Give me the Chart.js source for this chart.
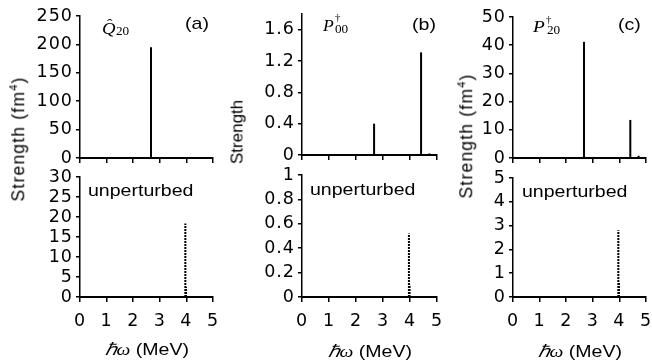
<!DOCTYPE html>
<html><head><meta charset="utf-8">
<script src="https://cdn.jsdelivr.net/npm/chart.js@4.4.1/dist/chart.umd.min.js"></script>
<style>
html,body{margin:0;padding:0;background:#fff;}
#root{position:relative;width:652px;height:364px;overflow:hidden;background:#fff;}
.cv{position:absolute;}
.t{position:absolute;white-space:nowrap;color:#000;}
</style></head><body><div id="root"></div>
<script>
// ---- data ----
const xTicks = [0, 1, 2, 3, 4, 5];
// perturbed (QRPA) strengths
const q20Energy = [2.67];
const q20Strength = [195];
const p00Energy = [2.67, 4.41, 4.72];
const p00Strength = [0.40, 1.31, 0.02];
const p20Energy = [2.67, 4.41, 4.72];
const p20Strength = [41.2, 13.5, 0.8];
// unperturbed strengths
const unpEnergy = [3.96, 3.985];
const unpQ20Strength = [18.4, 2.5];
const unpP00Strength = [0.52, 0.10];
const unpP20Strength = [2.8, 0.6];
// y tick labels
const yTicksQ20 = [0, 50, 100, 150, 200, 250];
const yTicksP00 = [0, 0.4, 0.8, 1.2, 1.6];
const yTicksP20 = [0, 10, 20, 30, 40, 50];
const yTicksUnpQ20 = [0, 5, 10, 15, 20, 25, 30];
const yTicksUnpP00 = [0, 0.2, 0.4, 0.6, 0.8, 1];
const yTicksUnpP20 = [0, 1, 2, 3, 4, 5];

const root = document.getElementById('root');
const YW = 70, PT = 12, PR = 14;
const TICKFONT = {family: 'DejaVu Sans', size: 17.5};

const spacing = {
  id: 'spacing',
  beforeDraw(chart) { chart.ctx.letterSpacing = '1px'; }
};

function makeChart(p) {
  const xh = p.labels ? 48 : 8;
  const W = YW + (p.x1 - p.x0) + PR;
  const H = PT + (p.y1 - p.y0) + xh;
  const c = document.createElement('canvas');
  c.className = 'cv';
  c.width = W; c.height = H;
  c.style.left = (p.x0 - YW) + 'px';
  c.style.top = (p.y0 - PT) + 'px';
  c.style.width = W + 'px'; c.style.height = H + 'px';
  root.appendChild(c);
  const datasets = p.E.map((e, i) => ({
    data: [{x: e, y: 0}, {x: e, y: p.S[i]}],
    showLine: true, borderColor: '#000', borderWidth: 2,
    pointRadius: 0, borderDash: p.dash ? [2, 1] : [], borderCapStyle: 'butt', fill: false
  }));
  new Chart(c, {
    type: 'scatter',
    data: {datasets},
    plugins: [spacing],
    options: {
      responsive: false, animation: false, devicePixelRatio: 1,
      layout: {padding: {left: 0, right: PR, top: PT, bottom: 0}},
      plugins: {legend: {display: false}, tooltip: {enabled: false}},
      scales: {
        x: {
          type: 'linear', min: 0, max: 5,
          afterBuildTicks: s => { s.ticks = xTicks.map(v => ({value: v})); },
          afterFit: s => { s.height = xh; s.paddingLeft = 0; s.paddingRight = 0; },
          grid: {drawOnChartArea: false, drawTicks: true, tickLength: 5, color: '#000', lineWidth: 1.5},
          border: {display: true, color: '#000', width: 2},
          ticks: {display: p.labels, padding: p.xpad || 9, maxRotation: 0, autoSkip: false, color: '#000', font: TICKFONT}
        },
        y: {
          type: 'linear', min: 0, max: p.max,
          afterBuildTicks: s => { s.ticks = p.ticks.map(v => ({value: v})); },
          afterFit: s => { s.width = YW; s.paddingTop = 0; s.paddingBottom = 0; },
          grid: {drawOnChartArea: false, drawTicks: true, tickLength: 4, color: '#000', lineWidth: 1.5},
          border: {display: true, color: '#000', width: 1.5},
          ticks: {padding: 3, autoSkip: false, color: '#000', font: TICKFONT, callback: v => String(+v.toFixed(2))}
        }
      }
    }
  });
}

const panels = [
  {x0: 80, x1: 213, y0: 16, y1: 158, max: 250, ticks: yTicksQ20, E: q20Energy, S: q20Strength, dash: false, labels: false},
  {x0: 302, x1: 437, y0: 14, y1: 155, max: 1.8, ticks: yTicksP00, E: p00Energy, S: p00Strength, dash: false, labels: false},
  {x0: 513, x1: 646, y0: 17, y1: 158, max: 50, ticks: yTicksP20, E: p20Energy, S: p20Strength, dash: false, labels: false},
  {x0: 80, x1: 213, y0: 177, y1: 297, max: 30, ticks: yTicksUnpQ20, E: unpEnergy, S: unpQ20Strength, dash: true, labels: true, xpad: 9},
  {x0: 302, x1: 437, y0: 175, y1: 297, max: 1, ticks: yTicksUnpP00, E: unpEnergy, S: unpP00Strength, dash: true, labels: true, xpad: 9},
  {x0: 513, x1: 646, y0: 178, y1: 297, max: 5, ticks: yTicksUnpP20, E: unpEnergy, S: unpP20Strength, dash: true, labels: true, xpad: 9}
];
panels.forEach(makeChart);

// ---- text overlays ----
const SANS = '"Liberation Sans", Arial, sans-serif';
const SERIF = '"Liberation Serif", "Times New Roman", serif';
function txt(html, x, baseline, size, opt) {
  opt = opt || {};
  const d = document.createElement('div');
  d.className = 't';
  d.innerHTML = html;
  d.style.fontFamily = opt.family || SANS;
  d.style.fontSize = size + 'px';
  d.style.lineHeight = size + 'px';
  if (opt.italic) d.style.fontStyle = 'italic';
  d.style.top = (baseline - 0.845 * size) + 'px';
  d.style.left = x + 'px';
  const sx = opt.sx || 1.15;
  if (opt.center) {
    d.style.transformOrigin = '50% 50%';
    d.style.transform = 'translateX(-50%) scaleX(' + sx + ')';
  } else {
    d.style.transformOrigin = '0 50%';
    d.style.transform = 'scaleX(' + sx + ')';
  }
  root.appendChild(d);
  return d;
}
function ytitle(html, cx, cy, size, ls) {
  const d = document.createElement('div');
  d.className = 't';
  d.innerHTML = html;
  d.style.fontFamily = SANS;
  d.style.fontSize = size + 'px';
  d.style.lineHeight = size + 'px';
  d.style.letterSpacing = (ls || 0) + 'px';
  d.style.left = cx + 'px';
  d.style.top = cy + 'px';
  d.style.transform = 'translate(-50%,-50%) rotate(-90deg)';
  root.appendChild(d);
}

// panel letters
txt('(a)', 185, 29, 17);
txt('(b)', 412, 30, 17);
txt('(c)', 618, 30, 17);
// operator labels
txt('Q', 102, 34, 17, {family: SERIF, italic: true, sx: 1.1});
txt('\u02C6', 107, 30, 15, {family: SERIF, sx: 1.1});
txt('20', 115.5, 36, 11.5, {family: SERIF, sx: 1.15});
txt('P', 323, 31.5, 16, {family: SERIF, italic: true, sx: 1.1});
txt('\u2020', 335, 21.5, 10, {family: SERIF, sx: 1.1});
txt('00', 335, 33.5, 11.5, {family: SERIF, sx: 1.15});
txt('P', 532.5, 33, 17.5, {family: SERIF, italic: true, sx: 1.1});
txt('\u2020', 546, 23, 10, {family: SERIF, sx: 1.1});
txt('20', 547, 35, 11.5, {family: SERIF, sx: 1.15});
// unperturbed
txt('unperturbed', 88, 196, 17);
txt('unperturbed', 310, 195, 17);
txt('unperturbed', 522, 197, 17);
// x titles
const xt = '<span style="font-family:' + SERIF.replace(/"/g, "'") + ';font-style:italic">\u210F\u03C9</span> (MeV)';
txt(xt, 146.5, 355, 17, {center: true});
txt(xt, 369.5, 357, 17, {center: true});
txt(xt, 579.5, 357, 17, {center: true});
// y titles
ytitle('Strength&nbsp;(fm<sup style="font-size:11px;line-height:0">4</sup>)', 19, 139, 17.5, 1.2);
ytitle('Strength', 237, 132, 17);
ytitle('Strength&nbsp;(fm<sup style="font-size:11px;line-height:0">4</sup>)', 467, 136, 17.5, 1.2);
</script></body></html>
